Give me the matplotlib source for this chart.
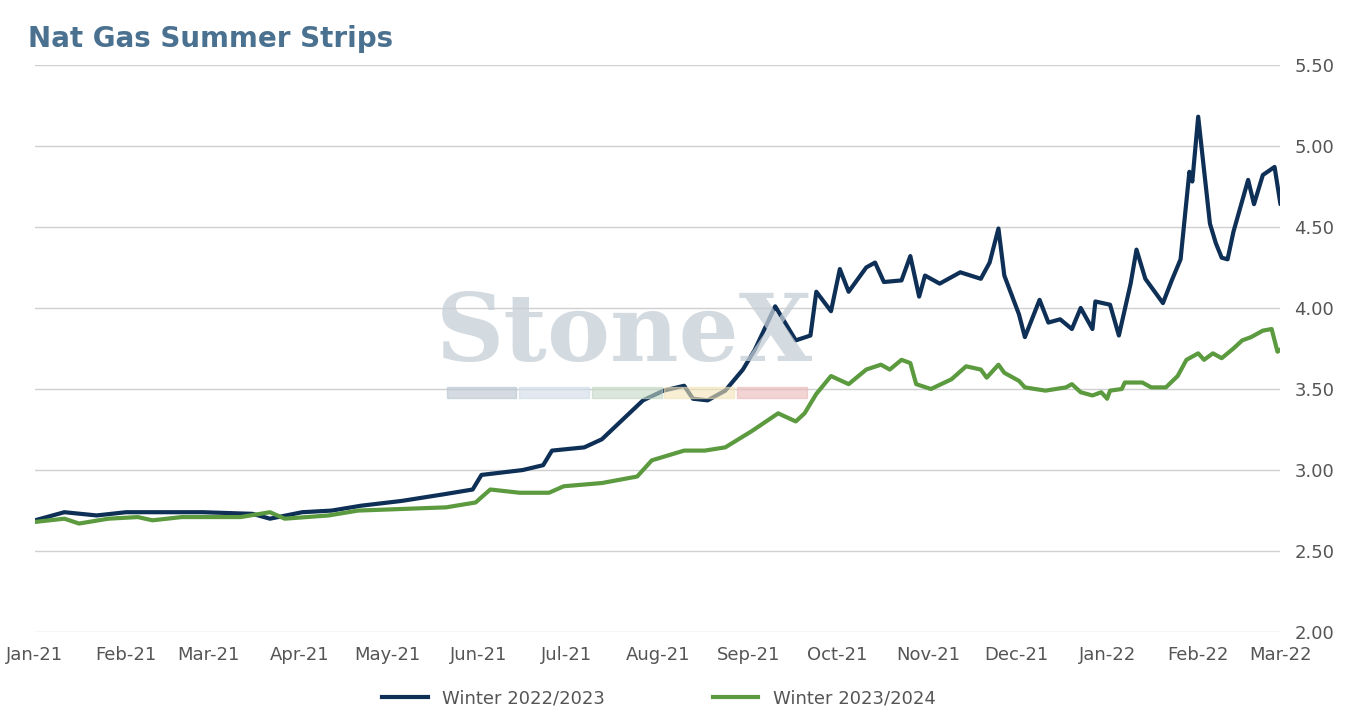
import numpy as np
import pandas as pd
import matplotlib.pyplot as plt
import matplotlib.dates as mdates

# days since 2021-01-01 and strip prices ($/MMBtu)
w2223_days = [0, 10, 21, 31, 39, 57, 74, 80, 91, 101, 111, 125, 139, 149, 152, 166, 173, 176, 187, 193,
              200, 207, 214, 221, 224, 229, 235, 241, 245, 252, 259, 264, 266, 271, 274, 277, 283, 286, 289, 295,
              298, 301, 303, 308, 315, 322, 325, 328, 330, 335, 337, 342, 345, 349, 353, 356, 360, 361, 366, 369,
              373, 375, 378, 384, 387, 390, 393, 394, 396, 400, 402, 404, 406, 408, 413, 415, 418, 422, 424, 426]
w2223_vals = [2.69, 2.74, 2.72, 2.74, 2.74, 2.74, 2.73, 2.70, 2.74, 2.75, 2.78, 2.81, 2.85, 2.88, 2.97, 3.00, 3.03, 3.12, 3.14, 3.19,
              3.31, 3.43, 3.49, 3.52, 3.44, 3.43, 3.49, 3.62, 3.74, 4.01, 3.80, 3.83, 4.10, 3.98, 4.24, 4.10, 4.25, 4.28, 4.16, 4.17,
              4.32, 4.07, 4.20, 4.15, 4.22, 4.18, 4.28, 4.49, 4.20, 3.96, 3.82, 4.05, 3.91, 3.93, 3.87, 4.00, 3.87, 4.04, 4.02, 3.83,
              4.15, 4.36, 4.18, 4.03, 4.17, 4.30, 4.84, 4.78, 5.18, 4.52, 4.40, 4.31, 4.30, 4.47, 4.79, 4.64, 4.82, 4.87, 4.64, 4.80]

w2324_days = [0, 10, 15, 25, 35, 40, 50, 70, 80, 85, 100, 110, 125, 140, 150, 155, 165, 175, 180, 193,
              205, 210, 221, 228, 235, 244, 253, 259, 262, 266, 271, 277, 283, 288, 291, 295, 298, 300, 305, 312,
              317, 322, 324, 328, 330, 335, 337, 344, 351, 353, 356, 360, 363, 365, 366, 370, 371, 377, 380, 385,
              389, 392, 396, 398, 401, 404, 408, 411, 414, 418, 421, 423, 426]
w2324_vals = [2.68, 2.70, 2.67, 2.70, 2.71, 2.69, 2.71, 2.71, 2.74, 2.70, 2.72, 2.75, 2.76, 2.77, 2.80, 2.88, 2.86, 2.86, 2.90, 2.92,
              2.96, 3.06, 3.12, 3.12, 3.14, 3.24, 3.35, 3.30, 3.35, 3.47, 3.58, 3.53, 3.62, 3.65, 3.62, 3.68, 3.66, 3.53, 3.50, 3.56,
              3.64, 3.62, 3.57, 3.65, 3.60, 3.55, 3.51, 3.49, 3.51, 3.53, 3.48, 3.46, 3.48, 3.44, 3.49, 3.50, 3.54, 3.54, 3.51, 3.51,
              3.58, 3.68, 3.72, 3.68, 3.72, 3.69, 3.75, 3.80, 3.82, 3.86, 3.87, 3.73, 3.77]

start = pd.Timestamp("2021-01-01")
w2223_dates = start + pd.to_timedelta(w2223_days, unit="D")
w2324_dates = start + pd.to_timedelta(w2324_days, unit="D")

fig = plt.figure(figsize=(13.45, 7.2), dpi=100)
ax = fig.add_axes([0.026, 0.122, 0.926, 0.788])

ax.plot(w2223_dates, w2223_vals, color="#0e2f56", linewidth=3, label="Winter 2022/2023")
ax.plot(w2324_dates, w2324_vals, color="#5b9a3e", linewidth=3, label="Winter 2023/2024")

ax.set_ylim(2.0, 5.5)
ax.set_yticks(np.arange(2.0, 5.51, 0.5))
ax.yaxis.tick_right()
ax.yaxis.set_major_formatter(plt.FormatStrFormatter("%.2f"))
ax.set_xlim(start, pd.Timestamp("2022-03-01"))
ax.xaxis.set_major_locator(mdates.MonthLocator())
ax.xaxis.set_major_formatter(mdates.DateFormatter("%b-%y"))
ax.tick_params(length=0, labelsize=13, colors="#555555", pad=10)
ax.grid(axis="y", color="#d0d0d0", linewidth=1)
ax.set_axisbelow(True)
for s in ax.spines.values():
    s.set_visible(False)

# watermark
fig.text(0.464, 0.535, "StoneX", fontsize=68, family="DejaVu Serif", fontweight="bold", color="#c5ced6",
         alpha=0.75, ha="center", va="center", zorder=0)
for i, c in enumerate(["#b8c4cf", "#cfdbe6", "#c3d7c3", "#f3e3b8", "#eab8b8"]):
    fig.patches.append(plt.Rectangle((0.332 + i * 0.054, 0.447), 0.052, 0.016, transform=fig.transFigure,
                                     color=c, alpha=0.6, zorder=0))

fig.text(0.021, 0.935, "Nat Gas Summer Strips", fontsize=20, fontweight="bold", color="#4b7190")
fig.legend(loc="lower center", ncol=2, frameon=False, fontsize=13, bbox_to_anchor=(0.49, -0.005),
           handlelength=2.5, columnspacing=6, labelcolor="#555555")

plt.savefig("out.png", dpi=100)
